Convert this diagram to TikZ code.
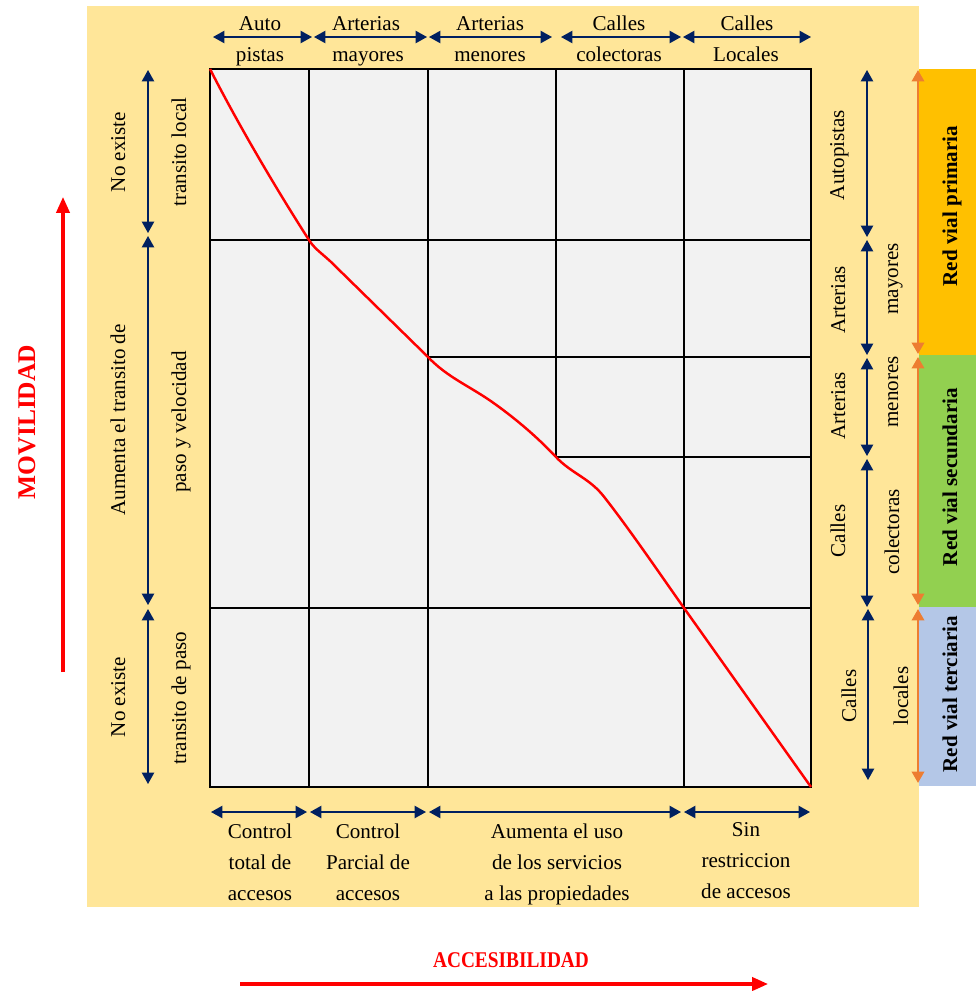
\documentclass[tikz,border=0pt]{standalone}
\usepackage{fontspec}
\setmainfont{Liberation Serif}
\usetikzlibrary{arrows.meta}
\definecolor{fondo}{HTML}{FFE699}
\definecolor{celda}{HTML}{F2F2F2}
\definecolor{azul}{HTML}{002060}
\definecolor{naranja}{HTML}{ED7D31}
\definecolor{primaria}{HTML}{FFC000}
\definecolor{secundaria}{HTML}{92D050}
\definecolor{terciaria}{HTML}{B4C7E7}
\tikzset{
txt/.style={font=\fontsize{12}{17.6}\selectfont, inner sep=0pt, anchor=base},
vtxt/.style={txt, rotate=90},
flecha/.style={azul, line width=0.9pt, {Triangle[length=6.5pt,width=7pt]}-{Triangle[length=6.5pt,width=7pt]}},
flechanar/.style={naranja, line width=1.4pt, {Triangle[length=6.5pt,width=7pt]}-{Triangle[length=6.5pt,width=7pt]}},
flecharoja/.style={red, line width=1.8pt, -{Triangle[length=9pt,width=7.5pt]}},
titulo/.style={font=\fontsize{14.5}{16}\selectfont\bfseries, text=red, inner sep=0pt, anchor=base},
redvial/.style={font=\fontsize{12}{14}\selectfont\bfseries, inner sep=0pt, anchor=base, rotate=90},
rejilla/.style={black, line width=1.1pt}}

\begin{document}
\begin{tikzpicture}[x=0.02cm, y=-0.02cm]
    \useasboundingbox (0,0) rectangle (976,991);

    % fondos
    \fill[fondo] (87,6) rectangle (919,907);
    \fill[primaria] (919,69) rectangle (976,355);
    \fill[secundaria] (919,355) rectangle (976,607);
    \fill[terciaria] (919,607) rectangle (976,786);

    % cuadricula
    \fill[celda] (210,69) rectangle (811,787);
    \draw[rejilla] (309,69) -- (309,787);
    \draw[rejilla] (428,69) -- (428,787);
    \draw[rejilla] (684,69) -- (684,787);
    \draw[rejilla] (556,69) -- (556,457);
    \draw[rejilla] (210,240) -- (811,240);
    \draw[rejilla] (428,357) -- (811,357);
    \draw[rejilla] (556,457) -- (811,457);
    \draw[rejilla] (210,608) -- (811,608);
    \draw[rejilla] (210,69) rectangle (811,787);

    % curva
    \draw[red, line width=1.4pt] (210,69) .. controls (240,128) and (280,195) .. (309,240)
        .. controls (314,248) and (320,252) .. (330,261) -- (428,357)
        .. controls (448,378) and (470,386) .. (495,404)
        .. controls (520,422) and (540,440) .. (556,457)
        .. controls (572,474) and (590,478) .. (605,498)
        .. controls (630,530) and (660,574) .. (684,608) -- (811,787);

    % arriba
    \coordinate (t1a) at (213,37); \coordinate (t1b) at (312,37);
    \coordinate (t2a) at (314,37); \coordinate (t2b) at (427,37);
    \coordinate (t3a) at (429,37); \coordinate (t3b) at (552,37);
    \coordinate (t4a) at (561,37); \coordinate (t4b) at (681,37);
    \coordinate (t5a) at (683,37); \coordinate (t5b) at (811,37);
    \draw[flecha] (t1a) -- (t1b);
    \draw[flecha] (t2a) -- (t2b);
    \draw[flecha] (t3a) -- (t3b);
    \draw[flecha] (t4a) -- (t4b);
    \draw[flecha] (t5a) -- (t5b);
    \node[txt] (auto) at (260,30) {Auto};
    \node[txt] (pistas) at (260,61) {pistas};
    \node[txt] (artmay) at (366,30) {Arterias};
    \node[txt] (mayores) at (368,61) {mayores};
    \node[txt] (artmen) at (490,30) {Arterias};
    \node[txt] (menores) at (490,61) {menores};
    \node[txt] (callcol) at (619,30) {Calles};
    \node[txt] (colectoras) at (619,61) {colectoras};
    \node[txt] (callloc) at (747,30) {Calles};
    \node[txt] (locales) at (746,61) {Locales};

    % abajo
    \coordinate (b1a) at (211,812); \coordinate (b1b) at (307,812);
    \coordinate (b2a) at (310,812); \coordinate (b2b) at (426,812);
    \coordinate (b3a) at (429,812); \coordinate (b3b) at (681,812);
    \coordinate (b4a) at (684,812); \coordinate (b4b) at (810,812);
    \draw[flecha] (b1a) -- (b1b);
    \draw[flecha] (b2a) -- (b2b);
    \draw[flecha] (b3a) -- (b3b);
    \draw[flecha] (b4a) -- (b4b);
    \node[txt, anchor=north, align=center] (ctotal) at (260,824) {Control\\total de\\accesos};
    \node[txt, anchor=north, align=center] (cparcial) at (368,824) {Control\\Parcial de\\accesos};
    \node[txt, anchor=north, align=center] (aumenta) at (557,824) {Aumenta el uso\\de los servicios\\a las propiedades};
    \node[txt, anchor=north, align=center] (sinres) at (746,822) {Sin\\restriccion\\de accesos};

    % izquierda
    \coordinate (l1a) at (148,70); \coordinate (l1b) at (148,233);
    \coordinate (l2a) at (148,236); \coordinate (l2b) at (148,605);
    \coordinate (l3a) at (148,609); \coordinate (l3b) at (148,784);
    \draw[flecha] (l1a) -- (l1b);
    \draw[flecha] (l2a) -- (l2b);
    \draw[flecha] (l3a) -- (l3b);
    \node[vtxt] (noex1) at (125,152) {No existe};
    \node[vtxt] (tlocal) at (186,152) {transito local};
    \node[vtxt] (aumtr) at (125,420) {Aumenta el transito de};
    \node[vtxt] (pasovel) at (186,422) {paso y velocidad};
    \node[vtxt] (noex2) at (125,697) {No existe};
    \node[vtxt] (tpaso) at (186,698) {transito de paso};

    % derecha
    \coordinate (r1a) at (867,70); \coordinate (r1b) at (867,237);
    \coordinate (r2a) at (867,240); \coordinate (r2b) at (867,355);
    \coordinate (r3a) at (867,358); \coordinate (r3b) at (867,456);
    \coordinate (r4a) at (867,459); \coordinate (r4b) at (867,607);
    \coordinate (r5a) at (868,609); \coordinate (r5b) at (868,780);
    \draw[flecha] (r1a) -- (r1b);
    \draw[flecha] (r2a) -- (r2b);
    \draw[flecha] (r3a) -- (r3b);
    \draw[flecha] (r4a) -- (r4b);
    \draw[flecha] (r5a) -- (r5b);
    \node[vtxt] (autopistas) at (844,155) {Autopistas};
    \node[vtxt] (arte1) at (845,300) {Arterias};
    \node[vtxt] (mayo) at (898,279) {mayores};
    \node[vtxt] (arte2) at (845,406) {Arterias};
    \node[vtxt] (meno) at (898,392) {menores};
    \node[vtxt] (call1) at (845,531) {Calles};
    \node[vtxt] (cole) at (899,532) {colectoras};
    \node[vtxt] (call2) at (856,696) {Calles};
    \node[vtxt] (loca) at (908,696) {locales};

    \coordinate (o1a) at (918,70); \coordinate (o1b) at (918,354);
    \coordinate (o2a) at (918,357); \coordinate (o2b) at (918,605);
    \coordinate (o3a) at (918,609); \coordinate (o3b) at (918,783);
    \draw[flechanar] (o1a) -- (o1b);
    \draw[flechanar] (o2a) -- (o2b);
    \draw[flechanar] (o3a) -- (o3b);
    \node[redvial] (rprim) at (957,206) {Red vial primaria};
    \node[redvial] (rsec) at (957,477) {Red vial secundaria};
    \node[redvial] (rter) at (957,694) {Red vial terciaria};

    % ejes
    \coordinate (mov0) at (63,672); \coordinate (mov1) at (63,197);
    \draw[flecharoja] (mov0) -- (mov1);
    \node[titulo, rotate=90] (movilidad) at (35,422) {MOVILIDAD};
    \coordinate (acc0) at (240,984); \coordinate (acc1) at (768,984);
    \draw[flecharoja] (acc0) -- (acc1);
    \node[titulo, font=\fontsize{12.8}{14}\selectfont\bfseries, xscale=0.86] (accesibilidad) at (511,967) {ACCESIBILIDAD};

\end{tikzpicture}
\end{document}
